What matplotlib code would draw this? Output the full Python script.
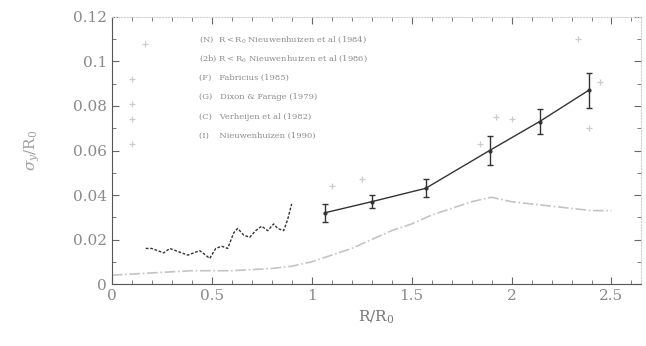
import numpy as np
import matplotlib; matplotlib.use("Agg")
import matplotlib.pyplot as plt
from matplotlib.ticker import MultipleLocator

# inner profile (dotted black, R < R0)
x_in = [0.17, 0.2, 0.23, 0.26, 0.29, 0.32, 0.35, 0.38, 0.41, 0.44, 0.47, 0.49,
        0.52, 0.55, 0.58, 0.61, 0.63, 0.66, 0.69, 0.72, 0.75, 0.78, 0.81, 0.83,
        0.86, 0.88, 0.9]
y_in = [0.016, 0.016, 0.015, 0.014, 0.016, 0.015, 0.014, 0.013, 0.014, 0.015,
        0.013, 0.0115, 0.016, 0.017, 0.016, 0.023, 0.025, 0.022, 0.021, 0.024,
        0.026, 0.024, 0.027, 0.025, 0.024, 0.029, 0.036]

# outer profile with error bars (solid black)
x_out = [1.065, 1.3, 1.57, 1.89, 2.14, 2.385]
y_out = [0.032, 0.037, 0.043, 0.060, 0.073, 0.087]
e_out = [0.004, 0.003, 0.004, 0.0063, 0.0056, 0.0077]

# model curve (grey dash-dot)
x_mod = [0.0, 0.2, 0.4, 0.6, 0.8, 0.9, 1.0, 1.1, 1.2, 1.3, 1.4, 1.5, 1.6,
         1.7, 1.8, 1.9, 2.0, 2.1, 2.2, 2.3, 2.4, 2.5]
y_mod = [0.004, 0.005, 0.006, 0.006, 0.007, 0.008, 0.010, 0.013, 0.016, 0.020,
         0.024, 0.027, 0.031, 0.034, 0.037, 0.039, 0.037, 0.036, 0.035, 0.034,
         0.033, 0.033]

# faint scattered points from other works
x_oth = [0.1, 0.1, 0.1, 0.1, 0.165, 1.1, 1.25, 1.84, 1.92, 2.0, 2.33, 2.385, 2.44]
y_oth = [0.092, 0.081, 0.074, 0.063, 0.108, 0.044, 0.047, 0.063, 0.075, 0.074,
         0.110, 0.070, 0.091]

legend_lines = [
    r"(N)  R$<$R$_0$ Nieuwenhuizen et al (1984)",
    r"(2b) R$<$R$_0$ Nieuwenhuizen et al (1986)",
    r"(F)   Fabricius (1985)",
    r"(G)   Dixon & Farage (1979)",
    r"(C)   Verheijen et al (1982)",
    r"(I)    Nieuwenhuizen (1990)",
]

plt.rcParams["font.family"] = "DejaVu Serif"
plt.rcParams["mathtext.fontset"] = "dejavuserif"

fig = plt.figure(figsize=(6.46, 3.46), dpi=100)
ax = fig.add_axes([0.173, 0.179, 0.82, 0.772])

ax.plot(x_mod, y_mod, color="#c4c4c4", lw=1.2, ls="-.")
ax.plot(x_oth, y_oth, ls="none", marker="+", ms=5, color="#cccccc", mew=0.9)
ax.plot(x_in, y_in, color="#333333", lw=1.0, ls=(0, (2, 1.2)))
ax.errorbar(x_out, y_out, yerr=e_out, color="#333333", lw=1.0, capsize=2.5,
            elinewidth=1.0, marker="o", ms=2)

for i, s in enumerate(legend_lines):
    ax.text(0.165, 0.915 - i * 0.072, s, transform=ax.transAxes, fontsize=6,
            color="#8c8c8c", va="center")

ax.set_xlim(0, 2.65)
ax.set_ylim(0, 0.12)
ax.xaxis.set_minor_locator(MultipleLocator(0.1))
ax.yaxis.set_minor_locator(MultipleLocator(0.01))
ax.set_xticks([0, 0.5, 1, 1.5, 2, 2.5])
ax.set_xticklabels(["0", "0.5", "1", "1.5", "2", "2.5"])
ax.set_yticks([0, 0.02, 0.04, 0.06, 0.08, 0.1, 0.12])
ax.set_yticklabels(["0", "0.02", "0.04", "0.06", "0.08", "0.1", "0.12"])
ax.tick_params(which="both", direction="in", top=True, right=True,
               colors="#666666", labelcolor="#8a8a8a", labelsize=11)
ax.tick_params(which="major", length=5)
ax.tick_params(which="minor", length=3)
for side in ["top", "right"]:
    ax.spines[side].set_color("#d0d0d0")
    ax.spines[side].set_linestyle(":")
for side in ["left", "bottom"]:
    ax.spines[side].set_color("#555555")

ax.set_xlabel(r"R/R$_0$", fontsize=11, color="#777777", labelpad=4)
ax.set_ylabel(r"$\sigma_{y}$/R$_0$", fontsize=11, color="#a0a0a0", labelpad=22)

fig.savefig("out.png", dpi=100)
